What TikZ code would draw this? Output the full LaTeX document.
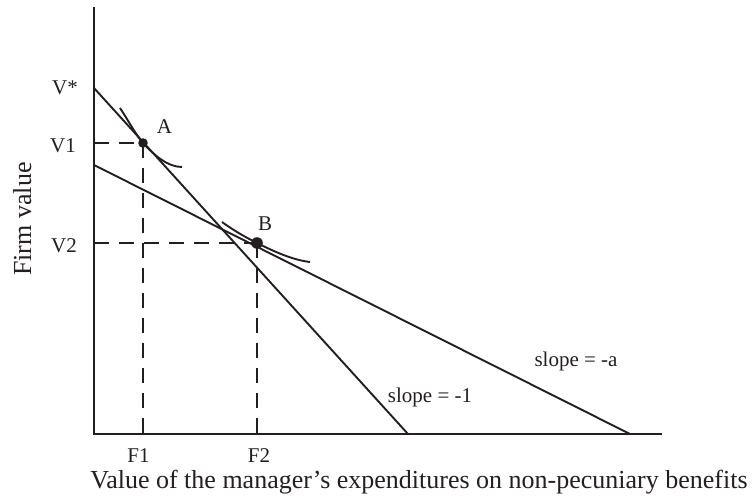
\documentclass[tikz,border=0pt]{standalone}
\usepackage{fontspec}
\setmainfont{Liberation Serif}
\definecolor{ink}{HTML}{231F20}
\begin{document}
\begin{tikzpicture}[x=1pt,y=-1pt,
  axisline/.style={draw=ink,line width=2pt,line cap=rect},
  budget/.style={draw=ink,line width=1.9pt},
  guide/.style={draw=ink,line width=1.9pt,dash pattern=on 15pt off 10pt},
  indiff/.style={draw=ink,line width=1.9pt},
  lbl/.style={inner sep=0pt,anchor=base,font=\fontsize{21}{25}\selectfont,text=ink},
  ttl/.style={inner sep=0pt,anchor=base,font=\fontsize{26}{30}\selectfont,text=ink}]
\useasboundingbox (0,0) rectangle (754,497);
% coordinates
\coordinate (top) at (94,8);
\coordinate (org) at (94,434);
\coordinate (right) at (661,434);
\coordinate (vstar) at (94,88);
\coordinate (l1end) at (408,434);
\coordinate (l2start) at (94,165);
\coordinate (l2end) at (630,434);
\coordinate (A) at (143,143);
\coordinate (B) at (257,243);
\coordinate (v1) at (94,143);
\coordinate (v2) at (94,243);
\coordinate (f1) at (143,434);
\coordinate (f2) at (257,434);
% dashed guides
\draw[guide] (v1) -- (A);
\draw[guide] (A) -- (f1);
\draw[guide] (v2) -- (B);
\draw[guide] (B) -- (f2);
% axes
\draw[axisline] (top) -- (org) -- (right);
% budget lines
\draw[budget] (vstar) -- (l1end);
\draw[budget] (l2start) -- (l2end);
% indifference curves
\draw[indiff] (120,108) .. controls (128,120) and (136,135) .. (A)
  .. controls (155,156) and (168,167) .. (182,167);
\draw[indiff] (222,222) .. controls (233,230) and (245,237) .. (B)
  .. controls (275,252) and (293,260) .. (310,262);
% dots
\fill[ink] (A) circle (4.8pt);
\fill[ink] (B) circle (5.8pt);
% labels
\node[lbl] (tVs) at (65,95) {V*};
\node[lbl] (tV1) at (63,153) {V1};
\node[lbl] (tV2) at (64,252) {V2};
\node[lbl] (tA) at (164.5,134) {A};
\node[lbl] (tB) at (265,230) {B};
\node[lbl] (tF1) at (138.5,462) {F1};
\node[lbl] (tF2) at (259,462) {F2};
\node[lbl] (ts1) at (430,402) {slope = -1};
\node[lbl] (tsa) at (576,366) {slope = -a};
\node[ttl] (tx) at (419,488) {Value of the manager’s expenditures on non-pecuniary benefits};
\node[ttl,rotate=90] (ty) at (31,219) {Firm value};
\end{tikzpicture}
\end{document}
